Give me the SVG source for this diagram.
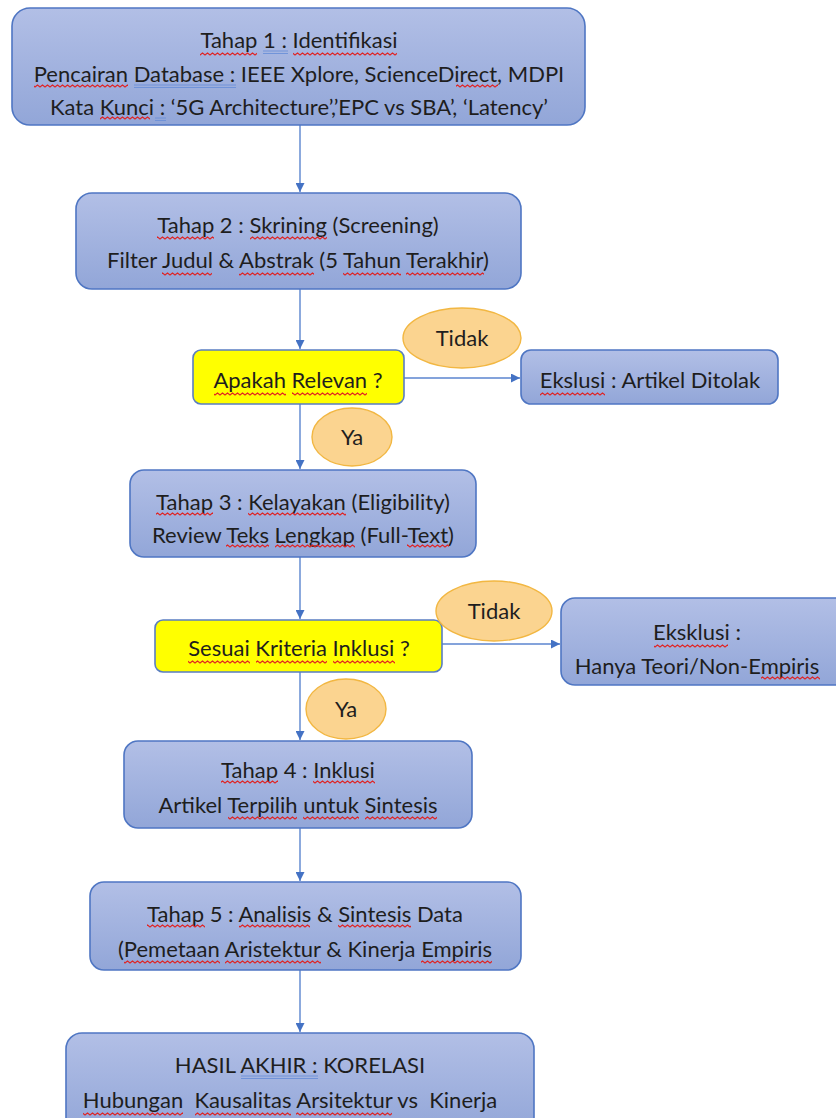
<svg xmlns="http://www.w3.org/2000/svg" width="836" height="1118" viewBox="0 0 836 1118">
<style>
.box{fill:url(#gb);stroke:#4f76c3;stroke-width:1.6}
.dec{fill:#ffff00;stroke:#5a7ec2;stroke-width:1.6}
.lab{fill:#fbd490;stroke:#f2b742;stroke-width:1.4}
.t{font-family:Lato,"Liberation Sans",sans-serif;font-size:22px;fill:#1e1e1e;text-anchor:middle}
.c{stroke:#5b85cf;stroke-width:1.4;fill:none}
.sq{fill:url(#wv)}
.du{stroke:#6b90d8;stroke-width:0.9;fill:none}
</style>
<defs>
<linearGradient id="gb" x1="0" y1="0" x2="0" y2="1">
<stop offset="0" stop-color="#b2bfe6"/>
<stop offset="1" stop-color="#92a6d8"/>
</linearGradient>
<pattern id="wv" patternUnits="userSpaceOnUse" x="0" y="0" width="5" height="4">
<path d="M-1.25,2 L0,3 L2.5,1 L5,3 L6.25,2" fill="none" stroke="#e02222" stroke-width="1.1"/>
</pattern>
<marker id="ah" viewBox="0 0 10 10" refX="10" refY="5" markerWidth="9" markerHeight="9" markerUnits="userSpaceOnUse" orient="auto">
<path d="M0,0 L10,5 L0,10 z" fill="#4472c4"/>
</marker>
</defs>
<rect width="836" height="1118" fill="#ffffff"/>
<g id="connectors">
<line class="c" x1="300" y1="125" x2="300" y2="192" marker-end="url(#ah)"/>
<line class="c" x1="300" y1="289" x2="300" y2="349" marker-end="url(#ah)"/>
<line class="c" x1="404" y1="378" x2="520" y2="378" marker-end="url(#ah)"/>
<line class="c" x1="300" y1="404" x2="300" y2="469" marker-end="url(#ah)"/>
<line class="c" x1="300" y1="557" x2="300" y2="619" marker-end="url(#ah)"/>
<line class="c" x1="442" y1="644" x2="560" y2="644" marker-end="url(#ah)"/>
<line class="c" x1="300" y1="672" x2="300" y2="740" marker-end="url(#ah)"/>
<line class="c" x1="300" y1="828" x2="300" y2="881" marker-end="url(#ah)"/>
<line class="c" x1="300" y1="970" x2="300" y2="1032" marker-end="url(#ah)"/>
</g>
<g id="tahap1">
<rect class="box" x="12" y="8" width="573" height="117" rx="18"/>
<text class="t" x="299" y="48">Tahap 1 : Identifikasi</text>
<text class="t" x="299" y="82">Pencairan Database : IEEE Xplore, ScienceDirect, MDPI</text>
<text class="t" x="299" y="115">Kata Kunci : ‘5G Architecture’,’EPC vs SBA’, ‘Latency’</text>
</g>
<g id="tahap2">
<rect class="box" x="76" y="193" width="445" height="96" rx="16"/>
<text class="t" x="298" y="233">Tahap 2 : Skrining (Screening)</text>
<text class="t" x="298" y="268">Filter Judul &amp; Abstrak (5 Tahun Terakhir)</text>
</g>
<g id="relevan">
<rect class="dec" x="193" y="350" width="211" height="54" rx="8"/>
<text class="t" x="298" y="388">Apakah Relevan ?</text>
</g>
<g id="tidak1">
<ellipse class="lab" cx="462" cy="338" rx="59" ry="30"/>
<text class="t" x="462" y="346">Tidak</text>
</g>
<g id="ekslusi">
<rect class="box" x="521" y="350" width="257" height="54" rx="10"/>
<text class="t" x="650" y="388">Ekslusi : Artikel Ditolak</text>
</g>
<g id="ya1">
<ellipse class="lab" cx="352" cy="437" rx="40" ry="29"/>
<text class="t" x="352" y="445">Ya</text>
</g>
<g id="tahap3">
<rect class="box" x="130" y="470" width="346" height="87" rx="14"/>
<text class="t" x="303" y="510">Tahap 3 : Kelayakan (Eligibility)</text>
<text class="t" x="303" y="543">Review Teks Lengkap (Full-Text)</text>
</g>
<g id="kriteria">
<rect class="dec" x="155" y="620" width="287" height="52" rx="8"/>
<text class="t" x="299" y="656">Sesuai Kriteria Inklusi ?</text>
</g>
<g id="tidak2">
<ellipse class="lab" cx="494" cy="611" rx="58" ry="30"/>
<text class="t" x="494" y="619">Tidak</text>
</g>
<g id="eksklusi">
<rect class="box" x="561" y="598" width="290" height="87" rx="14"/>
<text class="t" x="697" y="640">Eksklusi :</text>
<text class="t" x="697" y="674">Hanya Teori/Non-Empiris</text>
</g>
<g id="ya2">
<ellipse class="lab" cx="346" cy="709" rx="40" ry="30"/>
<text class="t" x="346" y="717">Ya</text>
</g>
<g id="tahap4">
<rect class="box" x="124" y="741" width="348" height="87" rx="14"/>
<text class="t" x="298" y="778">Tahap 4 : Inklusi</text>
<text class="t" x="298" y="813">Artikel Terpilih untuk Sintesis</text>
</g>
<g id="tahap5">
<rect class="box" x="90" y="882" width="431" height="88" rx="14"/>
<text class="t" x="305" y="922">Tahap 5 : Analisis &amp; Sintesis Data</text>
<text class="t" x="305" y="957">(Pemetaan Aristektur &amp; Kinerja Empiris</text>
</g>
<g id="hasil">
<rect class="box" x="66" y="1033" width="468" height="100" rx="16"/>
<text class="t" x="300" y="1073">HASIL AKHIR : KORELASI</text>
<text class="t" x="290" y="1108" xml:space="preserve">Hubungan  Kausalitas Arsitektur vs  Kinerja</text>
</g>
<g id="proofing-marks">
<rect class="sq" x="200" y="52" width="57" height="4"/>
<rect class="sq" x="293" y="52" width="104" height="4"/>
<rect class="sq" x="34" y="84" width="94" height="4"/>
<rect class="sq" x="456" y="84" width="42" height="4"/>
<rect class="sq" x="100" y="116" width="50" height="4"/>
<rect class="sq" x="157" y="236" width="57" height="4"/>
<rect class="sq" x="250" y="236" width="77" height="4"/>
<rect class="sq" x="162" y="272" width="50" height="4"/>
<rect class="sq" x="239" y="272" width="75" height="4"/>
<rect class="sq" x="343" y="272" width="58" height="4"/>
<rect class="sq" x="406" y="272" width="78" height="4"/>
<rect class="sq" x="214" y="392" width="72" height="4"/>
<rect class="sq" x="292" y="392" width="75" height="4"/>
<rect class="sq" x="540" y="392" width="65" height="4"/>
<rect class="sq" x="156" y="512" width="57" height="4"/>
<rect class="sq" x="248" y="512" width="98" height="4"/>
<rect class="sq" x="226" y="544" width="43" height="4"/>
<rect class="sq" x="275" y="544" width="80" height="4"/>
<rect class="sq" x="407" y="544" width="42" height="4"/>
<rect class="sq" x="188" y="660" width="62" height="4"/>
<rect class="sq" x="256" y="660" width="71" height="4"/>
<rect class="sq" x="333" y="660" width="62" height="4"/>
<rect class="sq" x="654" y="644" width="74" height="4"/>
<rect class="sq" x="761" y="676" width="59" height="4"/>
<rect class="sq" x="221" y="780" width="57" height="4"/>
<rect class="sq" x="313" y="780" width="62" height="4"/>
<rect class="sq" x="228" y="816" width="69" height="4"/>
<rect class="sq" x="303" y="816" width="56" height="4"/>
<rect class="sq" x="365" y="816" width="72" height="4"/>
<rect class="sq" x="147" y="924" width="58" height="4"/>
<rect class="sq" x="239" y="924" width="71" height="4"/>
<rect class="sq" x="338" y="924" width="73" height="4"/>
<rect class="sq" x="124" y="960" width="96" height="4"/>
<rect class="sq" x="225" y="960" width="96" height="4"/>
<rect class="sq" x="421" y="960" width="71" height="4"/>
<rect class="sq" x="83" y="1112" width="100" height="4"/>
<rect class="sq" x="195" y="1112" width="96" height="4"/>
<rect class="sq" x="296" y="1112" width="96" height="4"/>
<path class="du" d="M263,51 H288 M263,53.5 H288"/>
<path class="du" d="M134,85 H236 M134,87.5 H236"/>
<path class="du" d="M155,118 H166 M155,120.5 H166"/>
<path class="du" d="M241,1076 H318 M241,1078.5 H318"/>
</g>
</svg>
